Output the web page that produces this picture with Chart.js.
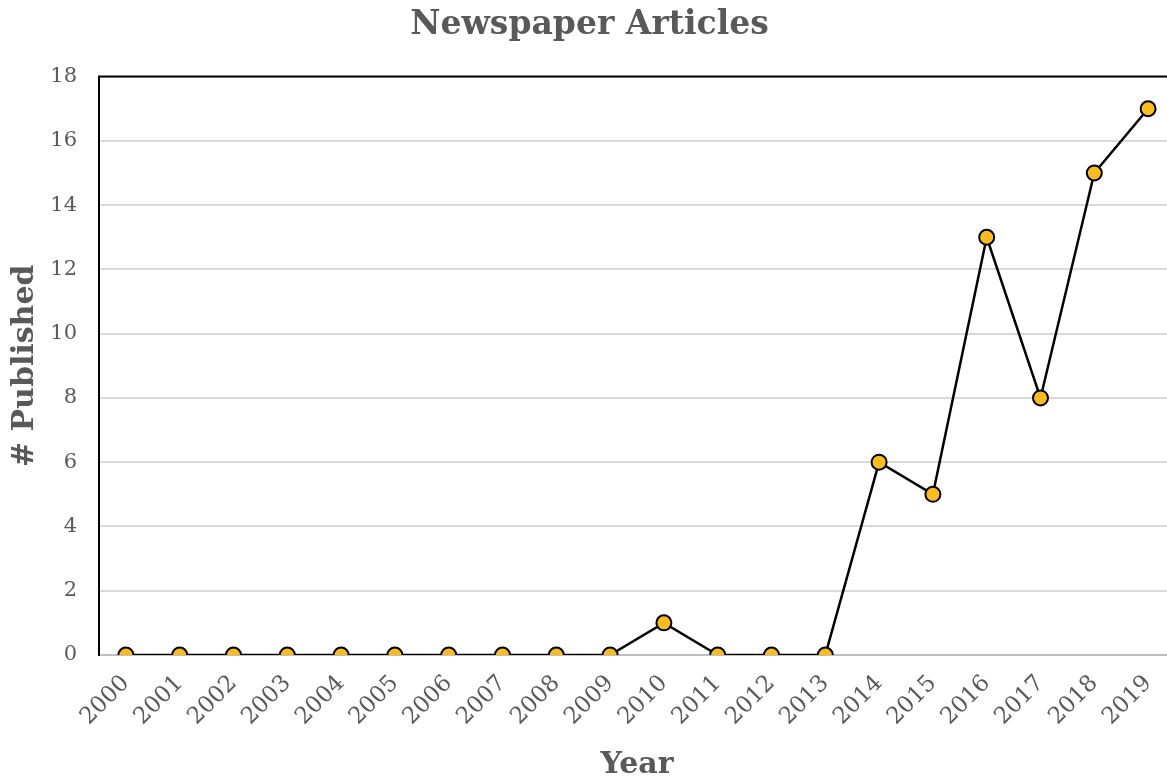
<!DOCTYPE html>
<html>
<head>
<meta charset="utf-8">
<script src="https://cdn.jsdelivr.net/npm/chart.js@4"></script>
<style>
  html, body { margin: 0; padding: 0; background: #fff; overflow: hidden; }
  #wrap { width: 1175px; height: 780px; }
</style>
</head>
<body>
<div id="wrap"><canvas id="lineChart"></canvas></div>
<script>
// Years and article counts
const years = ['2000', '2001', '2002', '2003', '2004', '2005', '2006', '2007', '2008', '2009',
               '2010', '2011', '2012', '2013', '2014', '2015', '2016', '2017', '2018', '2019'];
const published = [0, 0, 0, 0, 0, 0, 0, 0, 0, 0, 1, 0, 0, 0, 6, 5, 13, 8, 15, 17];
const yTicks = [0, 2, 4, 6, 8, 10, 12, 14, 16, 18];

const serif = "'DejaVu Serif', 'Liberation Serif', serif";
const grey = '#595959';

// black line along the top of the plot area
const topBorder = {
  id: 'topBorder',
  afterDraw(chart) {
    const { ctx, chartArea } = chart;
    ctx.save();
    ctx.strokeStyle = '#000';
    ctx.lineWidth = 2;
    ctx.beginPath();
    ctx.moveTo(chartArea.left - 1, chartArea.top);
    ctx.lineTo(chartArea.right, chartArea.top);
    ctx.stroke();
    ctx.restore();
  }
};

const ctx = document.getElementById('lineChart').getContext('2d');

const myChart = new Chart(ctx, {
  type: 'line',
  data: {
    labels: years,
    datasets: [{
      label: '# Published',
      data: published,
      borderColor: '#000',
      borderWidth: 2.5,
      backgroundColor: '#FBBC1E',
      pointBackgroundColor: '#FBBC1E',
      pointBorderColor: '#000',
      pointBorderWidth: 2,
      pointRadius: 7.5,
      tension: 0
    }]
  },
  options: {
    responsive: true,
    maintainAspectRatio: false,
    animation: false,
    layout: { autoPadding: false, padding: { top: 6, left: 4, right: 0, bottom: 0 } },
    plugins: {
      legend: { display: false },
      tooltip: { enabled: false },
      title: {
        display: true,
        text: 'Newspaper Articles',
        color: grey,
        font: { family: serif, size: 33, weight: 'bold' },
        padding: { top: 0, bottom: 31 }
      }
    },
    scales: {
      x: {
        offset: true,
        afterFit(axis) { axis.height = 125; },
        grid: { display: false },
        border: { color: '#bfbfbf', width: 2 },
        ticks: {
          color: grey,
          font: { family: serif, size: 23 },
          minRotation: 45,
          maxRotation: 45,
          padding: 7
        },
        title: {
          display: true,
          text: 'Year',
          color: grey,
          font: { family: serif, size: 30, weight: 'bold', lineHeight: 1 },
          padding: { top: 0, bottom: 0 }
        }
      },
      y: {
        min: 0,
        max: 18,
        afterFit(axis) { axis.width = 95; },
        afterBuildTicks(axis) {
          axis.ticks = yTicks.map(v => ({ value: v }));
        },
        grid: { color: '#d9d9d9', lineWidth: 2, drawTicks: false },
        border: { color: '#000', width: 2 },
        ticks: {
          color: grey,
          font: { family: serif, size: 21 },
          padding: 22
        },
        title: {
          display: true,
          text: '# Published',
          color: grey,
          font: { family: serif, size: 30, weight: 'bold' },
          padding: { top: 3, bottom: 0 }
        }
      }
    }
  },
  plugins: [topBorder]
});
myChart.update();
</script>
</body>
</html>
